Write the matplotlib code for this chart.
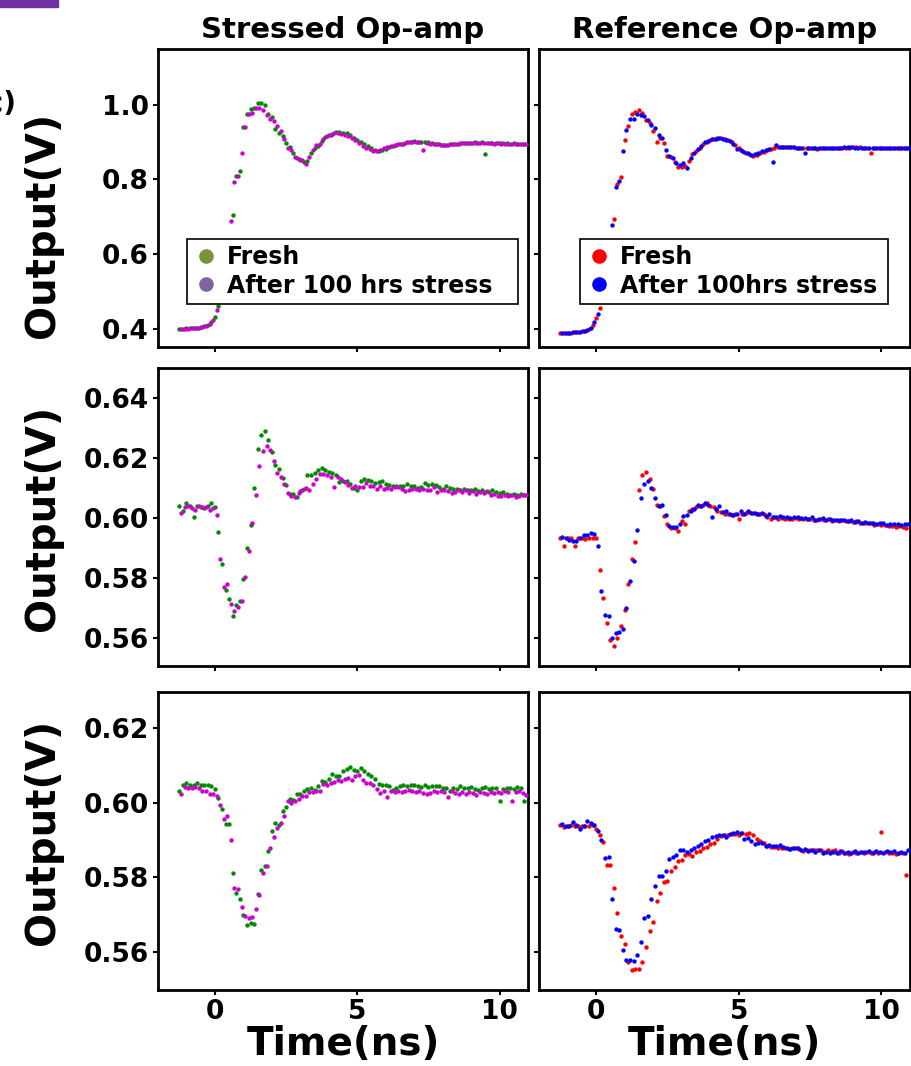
"""
Transient response of the stressed and reference op-amps, fresh vs. after
100 hrs of stress. Three stimulus cases (rows), two amplifiers (columns).
"""
import matplotlib
matplotlib.use("Agg")
import matplotlib.pyplot as plt
import matplotlib.ticker as mticker
from matplotlib.lines import Line2D
from matplotlib.patches import Rectangle
import numpy as np

nan = float("nan")

# ---------------------------------------------------------------------------
# Scope captures (V). Fresh and aged runs are offset by half a sample.
# ---------------------------------------------------------------------------

T0_NS = -1.25
DT_NS = 0.125

# Row 1: large step
stressed_fresh_1 = [
    0.401, 0.401, 0.402, 0.402, 0.403, 0.404, 0.405, 0.408, 0.411, 0.418,
    0.432, 0.462, nan, nan, nan, 0.706, 0.809, 0.823, 0.940, 0.975,
    0.989, 0.992, 1.004, 1.004, 0.998, 0.975, 0.968, 0.935, 0.925, 0.915,
    0.898, 0.886, 0.872, 0.858, 0.851, 0.846, 0.849, 0.872, 0.885, 0.890,
    0.903, 0.914, 0.918, 0.922, 0.927, 0.928, 0.925, 0.924, 0.918, 0.912,
    0.906, 0.900, 0.895, 0.889, 0.883, 0.879, 0.877, 0.878, 0.882, 0.886,
    0.889, 0.892, 0.894, 0.896, 0.899, 0.901, 0.902, 0.901, 0.900, 0.899,
    0.899, 0.897, 0.896, 0.894, 0.893, 0.893, 0.894, 0.895, 0.896, 0.897,
    0.898, 0.898, 0.898, 0.899, 0.898, 0.899, 0.867, 0.898, 0.898, 0.897,
    0.898, 0.897, 0.897, 0.896, 0.897, 0.896, 0.896, 0.896,
]
stressed_aged_1 = [
    0.400, 0.400, 0.401, 0.402, 0.403, 0.403, 0.405, 0.407, 0.413, 0.424,
    0.452, nan, nan, nan, 0.688, 0.793, 0.810, 0.870, 0.940, 0.976,
    0.978, 0.991, 0.992, 0.985, 0.972, 0.963, 0.956, 0.942, 0.930, 0.907,
    0.885, 0.880, 0.861, 0.854, 0.851, 0.842, 0.860, 0.878, 0.891, 0.895,
    0.907, 0.915, 0.920, 0.925, 0.925, 0.922, 0.920, 0.916, 0.911, 0.906,
    0.897, 0.890, 0.884, 0.881, 0.877, 0.875, 0.878, 0.884, 0.886, 0.889,
    0.892, 0.894, 0.896, 0.898, 0.900, 0.901, 0.901, 0.900, 0.878, 0.898,
    0.896, 0.895, 0.894, 0.893, 0.893, 0.893, 0.894, 0.895, 0.896, 0.897,
    0.897, 0.898, 0.898, 0.897, 0.898, 0.898, 0.897, 0.897, 0.896, 0.897,
    0.896, 0.896, 0.895, 0.896, 0.896, 0.895, 0.896, 0.896,
]
reference_fresh_1 = [
    0.389, 0.389, 0.390, 0.390, 0.391, 0.392, 0.394, 0.396, 0.401, 0.410,
    0.430, 0.455, nan, nan, nan, 0.693, 0.789, 0.807, 0.905, 0.944,
    0.976, 0.980, 0.987, 0.978, 0.958, 0.951, 0.930, 0.900, 0.910, 0.898,
    0.864, 0.860, 0.846, 0.834, 0.834, 0.835, 0.850, 0.867, 0.875, 0.885,
    0.895, 0.901, 0.906, 0.909, 0.912, 0.911, 0.908, 0.905, 0.900, 0.893,
    0.885, 0.875, 0.872, 0.867, 0.864, 0.866, 0.870, 0.873, 0.878, 0.882,
    0.885, 0.887, 0.887, 0.886, 0.886, 0.886, 0.885, 0.885, 0.884, 0.883,
    0.883, 0.883, 0.882, 0.883, 0.883, 0.884, 0.884, 0.884, 0.885, 0.885,
    0.885, 0.885, 0.886, 0.886, 0.886, 0.885, 0.885, 0.871, 0.884, 0.884,
    0.884, 0.884, 0.884, 0.884, 0.885, 0.884, 0.884, 0.884,
]
reference_aged_1 = [
    0.389, 0.389, 0.390, 0.391, 0.392, 0.393, 0.395, 0.398, 0.404, 0.418,
    0.440, nan, nan, nan, 0.677, 0.780, 0.795, 0.876, 0.932, 0.962,
    0.962, 0.975, 0.972, 0.969, 0.958, 0.945, 0.937, 0.919, 0.911, 0.880,
    0.864, 0.858, 0.845, 0.840, 0.845, 0.831, 0.858, 0.872, 0.882, 0.890,
    0.900, 0.903, 0.907, 0.909, 0.910, 0.909, 0.906, 0.902, 0.894, 0.882,
    0.880, 0.874, 0.870, 0.866, 0.867, 0.871, 0.876, 0.880, 0.882, 0.847,
    0.893, 0.888, 0.887, 0.887, 0.886, 0.886, 0.885, 0.885, 0.871, 0.884,
    0.883, 0.883, 0.883, 0.884, 0.884, 0.884, 0.885, 0.885, 0.885, 0.886,
    0.886, 0.886, 0.885, 0.885, 0.885, 0.885, 0.884, 0.884, 0.884, 0.885,
    0.884, 0.884, 0.884, 0.884, 0.884, 0.884, 0.884, 0.884,
]

# Row 2: negative glitch with overshoot
stressed_fresh_2 = [
    0.6040, 0.6025, 0.6050, 0.6041, 0.6003, 0.6039, 0.6038, 0.6035, 0.6040, 0.6051,
    0.6037, 0.5953, 0.5848, 0.5759, 0.5730, 0.5674, 0.5711, 0.5725, 0.5796, 0.5900,
    0.5978, 0.6101, 0.6231, 0.6276, 0.6290, 0.6261, 0.6220, 0.6178, 0.6165, 0.6135,
    0.6109, 0.6081, 0.6079, 0.6070, 0.6090, 0.6098, 0.6142, 0.6145, 0.6150, 0.6160,
    0.6168, 0.6160, 0.6155, 0.6151, 0.6145, 0.6120, 0.6125, 0.6125, 0.6114, 0.6100,
    0.6094, 0.6125, 0.6131, 0.6128, 0.6125, 0.6118, 0.6120, 0.6123, 0.6114, 0.6110,
    0.6108, 0.6108, 0.6106, 0.6106, 0.6114, 0.6106, 0.6108, 0.6100, 0.6104, 0.6118,
    0.6110, 0.6114, 0.6110, 0.6103, 0.6098, 0.6108, 0.6100, 0.6098, 0.6098, 0.6094,
    0.6098, 0.6094, 0.6092, 0.6097, 0.6090, 0.6092, 0.6088, 0.6086, 0.6092, 0.6088,
    0.6085, 0.6086, 0.6081, 0.6078, 0.6081, 0.6076, 0.6080, 0.6078,
]
stressed_aged_2 = [
    0.6017, 0.6037, 0.6039, 0.6032, 0.6028, 0.6039, 0.6036, 0.6036, 0.6028, 0.6033,
    0.6011, 0.5862, 0.5770, 0.5781, 0.5712, 0.5689, 0.5705, 0.5725, 0.5803, 0.5889,
    0.5983, 0.6078, 0.6174, 0.6223, 0.6240, 0.6228, 0.6190, 0.6150, 0.6137, 0.6112,
    0.6085, 0.6072, 0.6070, 0.6083, 0.6092, 0.6101, 0.6092, 0.6114, 0.6131, 0.6148,
    0.6148, 0.6142, 0.6137, 0.6103, 0.6137, 0.6131, 0.6120, 0.6109, 0.6100, 0.6108,
    0.6103, 0.6103, 0.6116, 0.6108, 0.6108, 0.6098, 0.6106, 0.6098, 0.6101, 0.6098,
    0.6103, 0.6103, 0.6096, 0.6089, 0.6092, 0.6098, 0.6096, 0.6092, 0.6098, 0.6092,
    0.6094, 0.6103, 0.6086, 0.6092, 0.6094, 0.6090, 0.6083, 0.6086, 0.6092, 0.6086,
    0.6092, 0.6084, 0.6089, 0.6081, 0.6086, 0.6084, 0.6089, 0.6076, 0.6080, 0.6074,
    0.6072, 0.6078, 0.6074, 0.6076, 0.6070, 0.6074, 0.6078, 0.6076,
]
reference_fresh_2 = [
    0.5933, 0.5907, 0.5933, 0.5935, 0.5907, 0.5933, 0.5934, 0.5931, 0.5932, 0.5933,
    0.5932, 0.5828, 0.5734, 0.5650, 0.5594, 0.5573, 0.5601, 0.5640, 0.5694, 0.5779,
    0.5864, 0.5920, 0.6092, 0.6142, 0.6153, 0.6131, 0.6096, 0.6044, 0.6040, 0.6007,
    0.5980, 0.5968, 0.5968, 0.5957, 0.5989, 0.5981, 0.6023, 0.6030, 0.6036, 0.6040,
    0.6045, 0.6050, 0.6040, 0.6037, 0.6025, 0.6020, 0.6014, 0.6015, 0.6010, 0.6012,
    0.5998, 0.6014, 0.6018, 0.6020, 0.6016, 0.6014, 0.6012, 0.6014, 0.6005, 0.5998,
    0.6003, 0.5998, 0.6000, 0.5998, 0.5998, 0.5996, 0.6001, 0.5998, 0.5998, 0.5996,
    0.5996, 0.5993, 0.5994, 0.5996, 0.5992, 0.5996, 0.5991, 0.5994, 0.5990, 0.5992,
    0.5989, 0.5991, 0.5986, 0.5989, 0.5983, 0.5985, 0.5983, 0.5983, 0.5977, 0.5979,
    0.5976, 0.5976, 0.5972, 0.5975, 0.5971, 0.5974, 0.5970, 0.5966,
]
reference_aged_2 = [
    0.5938, 0.5933, 0.5928, 0.5924, 0.5922, 0.5932, 0.5942, 0.5943, 0.5950, 0.5946,
    0.5906, 0.5756, 0.5676, 0.5672, 0.5600, 0.5617, 0.5619, 0.5629, 0.5701, 0.5790,
    0.5856, 0.5959, 0.6068, 0.6114, 0.6123, 0.6100, 0.6068, 0.6040, 0.6042, 0.6011,
    0.5975, 0.5970, 0.5970, 0.5979, 0.6007, 0.6010, 0.6023, 0.6031, 0.6042, 0.6040,
    0.6051, 0.6042, 0.6003, 0.6031, 0.6039, 0.6020, 0.6025, 0.6012, 0.6010, 0.6014,
    0.6025, 0.6014, 0.6022, 0.6017, 0.6016, 0.6014, 0.6018, 0.6007, 0.6014, 0.6005,
    0.6003, 0.6006, 0.6002, 0.6003, 0.6000, 0.6003, 0.6002, 0.6000, 0.6001, 0.5997,
    0.6003, 0.5995, 0.5997, 0.5999, 0.5994, 0.5996, 0.5993, 0.5995, 0.5992, 0.5994,
    0.5990, 0.5992, 0.5987, 0.5989, 0.5985, 0.5986, 0.5983, 0.5984, 0.5981, 0.5982,
    0.5983, 0.5978, 0.5980, 0.5981, 0.5979, 0.5978, 0.5979, 0.5980,
]

# Row 3: slow negative dip
stressed_fresh_3 = [
    0.6030, 0.6046, 0.6052, 0.6048, 0.6046, 0.6052, 0.6046, 0.6048, 0.6048, 0.6045,
    0.6035, 0.6012, 0.5983, 0.5943, 0.5943, 0.5810, 0.5757, 0.5743, 0.5699, 0.5672,
    0.5678, 0.5676, 0.5755, 0.5819, 0.5831, 0.5871, 0.5925, 0.5945, 0.5940, 0.5978,
    0.5988, 0.6010, 0.6007, 0.6023, 0.6023, 0.6030, 0.6036, 0.6038, 0.6033, 0.6043,
    0.6059, 0.6056, 0.6062, 0.6076, 0.6072, 0.6072, 0.6084, 0.6090, 0.6094, 0.6088,
    0.6085, 0.6093, 0.6084, 0.6076, 0.6072, 0.6063, 0.6049, 0.6047, 0.6047, 0.6045,
    0.6034, 0.6038, 0.6043, 0.6047, 0.6045, 0.6047, 0.6047, 0.6043, 0.6041, 0.6047,
    0.6041, 0.6045, 0.6045, 0.6045, 0.6039, 0.6039, 0.6032, 0.6039, 0.6035, 0.6045,
    0.6039, 0.6039, 0.6041, 0.6037, 0.6034, 0.6039, 0.6041, 0.6035, 0.6038, 0.6040,
    0.6005, 0.6035, 0.6038, 0.6040, 0.6036, 0.6041, 0.6040, 0.6003,
]
stressed_aged_3 = [
    0.6024, 0.6041, 0.6039, 0.6039, 0.6041, 0.6039, 0.6032, 0.6032, 0.6024, 0.6024,
    0.6017, 0.5994, 0.5956, 0.5965, 0.5900, 0.5772, 0.5769, 0.5720, 0.5696, 0.5690,
    0.5694, 0.5714, 0.5752, 0.5811, 0.5829, 0.5878, 0.5909, 0.5931, 0.5945, 0.5963,
    0.6003, 0.5999, 0.6003, 0.6010, 0.6018, 0.6018, 0.6028, 0.6028, 0.6030, 0.6032,
    0.6050, 0.6048, 0.6052, 0.6054, 0.6060, 0.6059, 0.6062, 0.6066, 0.6060, 0.6072,
    0.6073, 0.6060, 0.6052, 0.6052, 0.6046, 0.6036, 0.6025, 0.6030, 0.6014, 0.6030,
    0.6028, 0.6030, 0.6028, 0.6031, 0.6034, 0.6032, 0.6028, 0.6030, 0.6026, 0.6024,
    0.6026, 0.6030, 0.6028, 0.6030, 0.6028, 0.6015, 0.6030, 0.6026, 0.6024, 0.6028,
    0.6024, 0.6028, 0.6026, 0.6021, 0.6028, 0.6026, 0.6024, 0.6028, 0.6026, 0.6028,
    0.6026, 0.6030, 0.6028, 0.6003, 0.6028, 0.6032, 0.6025, 0.6020,
]
reference_fresh_3 = [
    0.5940, 0.5935, 0.5936, 0.5940, 0.5937, 0.5937, 0.5938, 0.5937, 0.5937, 0.5941,
    0.5930, 0.5914, 0.5895, 0.5834, 0.5834, 0.5771, 0.5704, 0.5642, 0.5620, 0.5573,
    0.5552, 0.5553, 0.5554, 0.5572, 0.5612, 0.5655, 0.5680, 0.5737, 0.5758, 0.5788,
    0.5790, 0.5818, 0.5828, 0.5843, 0.5846, 0.5860, 0.5862, 0.5856, 0.5867, 0.5870,
    0.5879, 0.5881, 0.5888, 0.5892, 0.5903, 0.5910, 0.5912, 0.5914, 0.5917, 0.5917,
    0.5914, 0.5919, 0.5917, 0.5919, 0.5914, 0.5903, 0.5896, 0.5892, 0.5883, 0.5881,
    0.5881, 0.5879, 0.5879, 0.5877, 0.5876, 0.5878, 0.5877, 0.5876, 0.5870, 0.5872,
    0.5874, 0.5873, 0.5872, 0.5874, 0.5868, 0.5874, 0.5870, 0.5872, 0.5866, 0.5870,
    0.5866, 0.5861, 0.5868, 0.5865, 0.5868, 0.5866, 0.5868, 0.5866, 0.5867, 0.5866,
    0.5921, 0.5868, 0.5865, 0.5866, 0.5863, 0.5865, 0.5866, 0.5805,
]
reference_aged_3 = [
    0.5943, 0.5937, 0.5937, 0.5947, 0.5940, 0.5930, 0.5937, 0.5950, 0.5946, 0.5940,
    0.5923, 0.5899, 0.5852, 0.5854, 0.5742, 0.5662, 0.5658, 0.5604, 0.5577, 0.5578,
    0.5576, 0.5593, 0.5627, 0.5691, 0.5697, 0.5742, 0.5776, 0.5803, 0.5803, 0.5818,
    0.5850, 0.5853, 0.5860, 0.5872, 0.5874, 0.5867, 0.5874, 0.5877, 0.5883, 0.5889,
    0.5896, 0.5899, 0.5907, 0.5910, 0.5912, 0.5914, 0.5908, 0.5917, 0.5918, 0.5920,
    0.5919, 0.5902, 0.5905, 0.5898, 0.5890, 0.5892, 0.5892, 0.5883, 0.5887, 0.5883,
    0.5883, 0.5885, 0.5880, 0.5878, 0.5876, 0.5878, 0.5879, 0.5874, 0.5876, 0.5870,
    0.5874, 0.5868, 0.5872, 0.5866, 0.5868, 0.5865, 0.5868, 0.5866, 0.5870, 0.5865,
    0.5868, 0.5866, 0.5870, 0.5866, 0.5868, 0.5867, 0.5869, 0.5866, 0.5870, 0.5868,
    0.5866, 0.5870, 0.5867, 0.5869, 0.5866, 0.5868, 0.5866, 0.5872,
]

ROW_YLIM = [(0.352, 1.149), (0.5507, 0.650), (0.5498, 0.6296)]
ROW_YTICKS = [[0.4, 0.6, 0.8, 1.0],
              [0.56, 0.58, 0.60, 0.62, 0.64],
              [0.56, 0.58, 0.60, 0.62]]
ROW_YFMT = ["%.1f", "%.2f", "%.2f"]
XTICKS = [0, 5, 10]

COL_TITLES = ["Stressed Op-amp", "Reference Op-amp"]
LEGEND_LABELS = [["Fresh", "After 100 hrs stress"],
                 ["Fresh", "After 100hrs stress"]]

# ---------------------------------------------------------------------------
# Style
# ---------------------------------------------------------------------------

C_STRESSED = ("#008a00", "#cc00cc")     # fresh, aged
C_REFERENCE = ("#ff0000", "#0000ff")
C_LEGEND_STRESSED = ("#77933c", "#8064a2")

plt.rcParams.update({
    "font.family": "DejaVu Sans",
    "font.weight": "bold",
    "axes.linewidth": 2.0,
    "xtick.major.width": 1.5,
    "ytick.major.width": 1.5,
    "xtick.major.size": 3.5,
    "ytick.major.size": 3.5,
})

FIG_W, FIG_H = 912, 1066
COL_X = [(158, 528), (539, 910)]
ROW_Y = [(49, 347), (368, 666), (692, 990)]
YLABEL_Y = [225, 518, 832]
# legend boxes in axes fractions: x0, width
LEGEND_BOX = [(0.078, 0.895), (0.11, 0.830)]


def _px_axes(fig, x0, y0, x1, y1):
    """Add axes from pixel edges measured from the top-left corner."""
    return fig.add_axes([x0 / FIG_W, 1 - y1 / FIG_H,
                         (x1 - x0) / FIG_W, (y1 - y0) / FIG_H])


fig = plt.figure(figsize=(FIG_W / 100, FIG_H / 100), dpi=100)

series = [
    [(stressed_fresh_1, stressed_aged_1), (reference_fresh_1, reference_aged_1)],
    [(stressed_fresh_2, stressed_aged_2), (reference_fresh_2, reference_aged_2)],
    [(stressed_fresh_3, stressed_aged_3), (reference_fresh_3, reference_aged_3)],
]

for r in range(3):
    for c in range(2):
        fresh, aged = series[r][c]
        t_fresh = T0_NS + DT_NS * np.arange(len(fresh))
        t_aged = T0_NS + DT_NS / 2 + DT_NS * np.arange(len(aged))
        colors = C_STRESSED if c == 0 else C_REFERENCE

        ax = _px_axes(fig, COL_X[c][0], ROW_Y[r][0], COL_X[c][1], ROW_Y[r][1])
        ax.scatter(t_fresh, fresh, s=10, color=colors[0], linewidths=0, zorder=3)
        ax.scatter(t_aged, aged, s=10, color=colors[1], linewidths=0, zorder=4)

        ax.set_xlim(-2.0, 11.0)
        ax.set_ylim(*ROW_YLIM[r])
        ax.set_xticks(XTICKS)
        ax.set_yticks(ROW_YTICKS[r])
        ax.yaxis.set_major_formatter(mticker.FormatStrFormatter(ROW_YFMT[r]))
        ax.tick_params(direction="out", labelsize=19, pad=3)
        if c == 1:
            ax.tick_params(labelleft=False)
        if r < 2:
            ax.tick_params(labelbottom=False)
        else:
            ax.set_xlabel("Time(ns)", fontsize=28, fontweight="bold", labelpad=0)

        if r == 0:
            ax.set_title(COL_TITLES[c], fontsize=21, fontweight="bold", pad=8)
            leg_colors = C_LEGEND_STRESSED if c == 0 else C_REFERENCE
            handles = [Line2D([], [], linestyle="none", marker="o",
                              markersize=10.5, markeredgewidth=0, color=col)
                       for col in leg_colors]
            x0, width = LEGEND_BOX[c]
            leg = ax.legend(handles, LEGEND_LABELS[c], loc="upper left",
                            bbox_to_anchor=(x0, 0.151, width, 0.211),
                            mode="expand", borderaxespad=0,
                            prop={"weight": "bold", "size": 17},
                            frameon=True, fancybox=False, framealpha=1,
                            edgecolor="black", borderpad=0.25,
                            labelspacing=0.2, handlelength=1.1,
                            handletextpad=0.35)
            leg.get_frame().set_linewidth(1.2)

    fig.text(43 / FIG_W, 1 - YLABEL_Y[r] / FIG_H, "Output(V)", rotation=90,
             ha="center", va="center", fontsize=29, fontweight="bold")

# panel tag and colour bar of the enclosing figure
fig.text(17 / FIG_W, 1 - 104 / FIG_H, "(c)", ha="right", va="center",
         fontsize=20, fontweight="bold")
fig.patches.append(Rectangle((0, 1 - 7 / FIG_H), 58 / FIG_W, 7 / FIG_H,
                             transform=fig.transFigure, color="#7030a0"))

fig.savefig("out.png", dpi=100)
plt.close(fig)
